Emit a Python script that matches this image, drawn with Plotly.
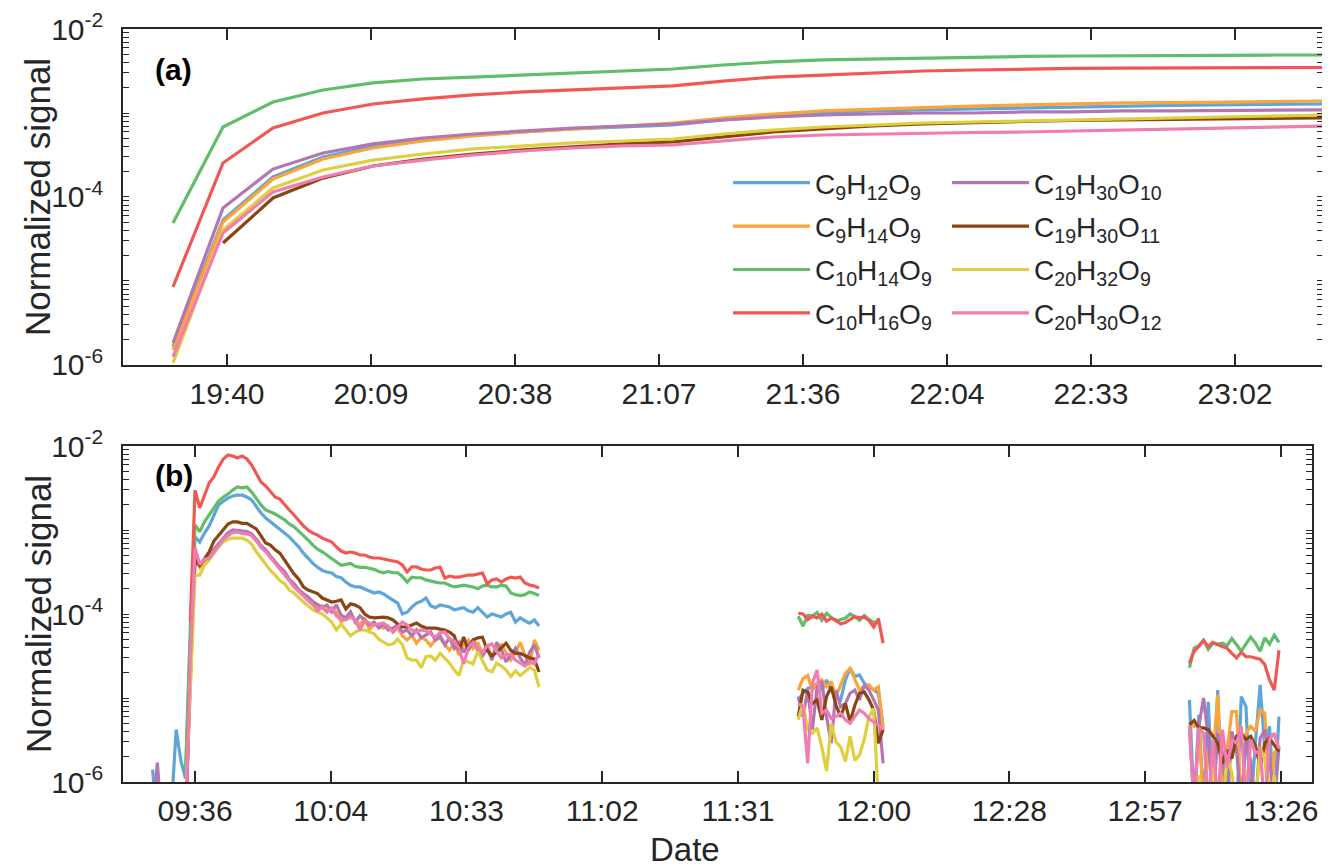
import pandas as pd
import plotly.graph_objects as go

# ---------------- series identity ----------------
NAMES = [
    "C<sub>9</sub>H<sub>12</sub>O<sub>9</sub>",
    "C<sub>9</sub>H<sub>14</sub>O<sub>9</sub>",
    "C<sub>10</sub>H<sub>14</sub>O<sub>9</sub>",
    "C<sub>10</sub>H<sub>16</sub>O<sub>9</sub>",
    "C<sub>19</sub>H<sub>30</sub>O<sub>10</sub>",
    "C<sub>19</sub>H<sub>30</sub>O<sub>11</sub>",
    "C<sub>20</sub>H<sub>32</sub>O<sub>9</sub>",
    "C<sub>20</sub>H<sub>30</sub>O<sub>12</sub>",
]
COLORS = ["#5DA5DA", "#FAA43A", "#60BD68", "#F15854",
          "#B276B2", "#8B4513", "#DECF3F", "#F17CB0"]

# ---------------- panel (a): 10-min samples 19:30 .. 23:20 ----------------
A_START = "2000-01-01 19:30"
A_COUNT = 24
A_C9H12O9 = [1.64e-6, 5.32e-5, 1.73e-4, 2.99e-4, 4.05e-4, 4.77e-4, 5.47e-4, 5.94e-4, 6.45e-4, 6.81e-4, 7.20e-4, 8.25e-4,
             9.21e-4, 1.00e-3, 1.06e-3, 1.09e-3, 1.12e-3, 1.15e-3, 1.18e-3, 1.21e-3, 1.23e-3, 1.25e-3, 1.26e-3, 1.28e-3]
A_C9H14O9 = [1.51e-6, 5.04e-5, 1.64e-4, 2.83e-4, 3.83e-4, 4.64e-4, 5.32e-4, 5.94e-4, 6.45e-4, 7.00e-4, 7.60e-4, 8.72e-4,
             9.73e-4, 1.06e-3, 1.12e-3, 1.16e-3, 1.21e-3, 1.25e-3, 1.28e-3, 1.32e-3, 1.33e-3, 1.35e-3, 1.37e-3, 1.39e-3]
A_C10H14O9 = [4.9e-5, 6.81e-4, 1.35e-3, 1.88e-3, 2.28e-3, 2.54e-3, 2.68e-3, 2.83e-3, 2.99e-3, 3.16e-3, 3.34e-3, 3.73e-3,
              4.05e-3, 4.28e-3, 4.40e-3, 4.52e-3, 4.64e-3, 4.71e-3, 4.77e-3, 4.77e-3, 4.84e-3, 4.84e-3, 4.90e-3, 4.90e-3]
A_C10H16O9 = [8.49e-6, 2.54e-4, 6.63e-4, 1.00e-3, 1.28e-3, 1.47e-3, 1.64e-3, 1.78e-3, 1.88e-3, 1.99e-3, 2.10e-3, 2.40e-3,
              2.68e-3, 2.83e-3, 2.99e-3, 3.16e-3, 3.25e-3, 3.34e-3, 3.39e-3, 3.43e-3, 3.43e-3, 3.43e-3, 3.48e-3, 3.48e-3]
A_C19H30O10 = [1.83e-6, 7.40e-5, 2.15e-4, 3.34e-4, 4.28e-4, 5.04e-4, 5.62e-4, 6.11e-4, 6.63e-4, 7.00e-4, 7.40e-4, 8.25e-4,
               8.96e-4, 9.47e-4, 9.73e-4, 1.00e-3, 1.00e-3, 1.03e-3, 1.03e-3, 1.06e-3, 1.06e-3, 1.07e-3, 1.07e-3, 1.09e-3]
A_C19H30O11 = [None, 2.83e-5, 9.73e-5, 1.68e-4, 2.34e-4, 2.83e-4, 3.25e-4, 3.63e-4, 3.94e-4, 4.28e-4, 4.52e-4, 5.18e-4,
               5.94e-4, 6.45e-4, 7.00e-4, 7.40e-4, 7.71e-4, 7.92e-4, 8.14e-4, 8.25e-4, 8.37e-4, 8.48e-4, 8.60e-4, 8.72e-4]
A_C20H32O9 = [1.06e-6, 4.05e-5, 1.28e-4, 2.10e-4, 2.75e-4, 3.25e-4, 3.73e-4, 4.05e-4, 4.40e-4, 4.64e-4, 4.90e-4, 5.62e-4,
              6.28e-4, 6.81e-4, 7.20e-4, 7.60e-4, 7.81e-4, 8.03e-4, 8.25e-4, 8.48e-4, 8.72e-4, 8.96e-4, 9.21e-4, 9.47e-4]
A_C20H30O12 = [1.25e-6, 3.73e-5, 1.15e-4, 1.73e-4, 2.34e-4, 2.75e-4, 3.16e-4, 3.53e-4, 3.83e-4, 4.05e-4, 4.16e-4, 4.64e-4,
               5.18e-4, 5.47e-4, 5.62e-4, 5.78e-4, 5.86e-4, 5.94e-4, 6.11e-4, 6.28e-4, 6.45e-4, 6.63e-4, 6.81e-4, 7.00e-4]

# ---------------- panel (b): 1-min samples in three measurement windows ----------------
B1_START, B1_COUNT = "2000-01-01 09:27", 83
B2_START, B2_COUNT = "2000-01-01 11:44", 19
B3_START, B3_COUNT = "2000-01-01 13:07", 20

B1_C9H12O9 = [1.4e-6, 3e-7, 3e-7, 3e-7, 5e-7, 4.2e-6, 1.8e-6, 1.1e-6, 4e-5,
              8.3e-4, 7.2e-4, 9.2e-4, 1.12e-3, 1.51e-3, 1.99e-3, 2.2e-3, 2.4e-3, 2.54e-3, 2.6e-3, 2.6e-3, 2.47e-3, 2.28e-3,
              1.88e-3, 1.59e-3, 1.39e-3, 1.25e-3, 1.15e-3, 1.03e-3, 9.2e-4, 8.3e-4, 7.2e-4, 6.3e-4, 5.3e-4, 4.6e-4, 4.0e-4,
              3.6e-4, 3.3e-4, 3.16e-4,
              3.08e-4, 2.8e-4, 2.7e-4, 2.4e-4, 2.2e-4, 2.1e-4, 2.1e-4, 1.99e-4, 1.87e-4, 1.78e-4, 1.83e-4, 1.73e-4, 1.59e-4,
              1.47e-4, 1.35e-4, 1.0e-4, 1.05e-4, 1.21e-4, 1.35e-4, 1.42e-4, 1.55e-4, 1.25e-4, 1.19e-4, 1.28e-4, 1.25e-4,
              1.21e-4, 1.12e-4, 1.15e-4, 1.19e-4, 1.09e-4, 1.05e-4, 1.19e-4, 1.03e-4, 9.2e-5, 1.0e-4, 9.7e-5, 9.2e-5, 1.0e-4,
              1.05e-4, 8.0e-5, 9.0e-5, 8.3e-5, 7.8e-5, 8.5e-5, 7.2e-5]
B1_C9H14O9 = [3e-7, 3e-7, 3e-7, 3e-7, 3e-7, 3e-7, 3e-7, 4e-7, 1.5e-5,
              4.6e-4, 3.6e-4, 4.2e-4, 4.7e-4, 5.6e-4, 6.6e-4, 7.8e-4, 8.9e-4, 9.6e-4, 9.5e-4, 9.3e-4, 9.4e-4, 8.8e-4,
              7.5e-4, 6.3e-4, 5.6e-4, 4.8e-4, 4.0e-4, 3.5e-4, 3.0e-4, 2.5e-4, 2.2e-4, 1.9e-4, 1.7e-4, 1.5e-4, 1.35e-4,
              1.15e-4, 1.25e-4, 1.1e-4,
              1.12e-4, 1.06e-4, 8.0e-5, 9.0e-5, 9.7e-5, 8.5e-5, 7.4e-5, 9.0e-5, 6.45e-5, 7.6e-5, 7.4e-5, 6.8e-5, 7.2e-5,
              6.1e-5, 6.8e-5, 5.5e-5, 4.9e-5, 5.6e-5, 4.5e-5, 5.3e-5, 4.9e-5, 4.2e-5, 4.9e-5, 5.2e-5, 4.3e-5, 3.7e-5,
              4.6e-5, 3.25e-5, 4.3e-5, 4.9e-5, 3.9e-5, 4.6e-5, 3.3e-5, 4.3e-5, 3.0e-5, 3.9e-5, 4.3e-5, 3.5e-5, 2.83e-5,
              3.5e-5, 4.6e-5, 3.25e-5, 2.47e-5, 4.9e-5, 3.7e-5]
B1_C10H14O9 = [None, None, None, None, None, None, None, 1.4e-6, 7e-5,
               1.15e-3, 9.5e-4, 1.25e-3, 1.51e-3, 1.88e-3, 2.21e-3, 2.47e-3, 2.68e-3, 2.99e-3, 3.25e-3, 3.17e-3, 3.25e-3,
               2.83e-3, 2.34e-3, 1.99e-3, 1.73e-3, 1.64e-3, 1.55e-3, 1.43e-3, 1.32e-3, 1.18e-3, 1.09e-3, 9.7e-4, 8.7e-4,
               7.6e-4, 6.6e-4, 5.9e-4, 5.5e-4, 5.0e-4,
               4.5e-4, 4.2e-4, 3.8e-4, 3.9e-4, 4.0e-4, 3.7e-4, 3.6e-4, 3.6e-4, 3.5e-4, 3.4e-4, 3.2e-4, 3.1e-4, 3.2e-4,
               3.1e-4, 3.1e-4, 2.8e-4, 2.4e-4, 2.75e-4, 2.7e-4, 2.7e-4, 2.55e-4, 2.5e-4, 2.4e-4, 2.34e-4, 2.34e-4, 2.2e-4,
               2.1e-4, 2.15e-4, 2.2e-4, 2.15e-4, 2.1e-4, 2.0e-4, 2.15e-4, 2.2e-4, 2.1e-4, 2.1e-4, 2.2e-4, 2.15e-4, 1.78e-4,
               1.7e-4, 1.66e-4, 1.7e-4, 1.83e-4, 1.75e-4, 1.66e-4]
B1_C10H16O9 = [None, None, None, None, None, None, None, None, 8e-5,
               2.99e-3, 1.83e-3, 2.61e-3, 3.63e-3, 4.28e-3, 5.62e-3, 7.0e-3, 7.82e-3, 7.6e-3, 7.2e-3, 7.6e-3, 7.0e-3,
               5.94e-3, 4.64e-3, 3.73e-3, 3.34e-3, 2.83e-3, 2.47e-3, 2.34e-3, 1.99e-3, 1.73e-3, 1.51e-3, 1.28e-3, 1.12e-3,
               1.0e-3, 9.2e-4, 8.7e-4, 8.0e-4, 7.6e-4,
               7.2e-4, 6.28e-4, 5.62e-4, 5.32e-4, 5.47e-4, 5.32e-4, 5.04e-4, 5.04e-4, 4.77e-4, 4.64e-4, 4.64e-4, 4.52e-4,
               4.40e-4, 4.28e-4, 4.16e-4, 3.83e-4, 3.16e-4, 3.63e-4, 3.63e-4, 3.43e-4, 3.34e-4, 3.34e-4, 3.53e-4, 3.63e-4,
               2.68e-4, 2.83e-4, 2.75e-4, 2.75e-4, 2.83e-4, 2.91e-4, 2.91e-4, 2.99e-4, 3.08e-4, 2.28e-4, 2.54e-4, 2.61e-4,
               2.40e-4, 2.61e-4, 2.75e-4, 2.68e-4, 2.75e-4, 2.34e-4, 2.21e-4, 2.15e-4, 2.04e-4]
B1_C19H30O10 = [3e-7, 1.7e-6, 3e-7, 3e-7, 3e-7, 3e-7, 3e-7, 3e-7, 2e-5,
                5.0e-4, 3.9e-4, 4.4e-4, 4.9e-4, 5.9e-4, 6.9e-4, 8.1e-4, 9.3e-4, 1.0e-3, 9.9e-4, 9.6e-4, 9.6e-4, 9.0e-4,
                7.8e-4, 6.5e-4, 5.8e-4, 4.9e-4, 4.2e-4, 3.6e-4, 3.2e-4, 2.6e-4, 2.3e-4, 1.95e-4, 1.75e-4, 1.6e-4, 1.4e-4,
                1.3e-4, 1.2e-4, 1.28e-4,
                1.06e-4, 1.28e-4, 9.7e-5, 9.0e-5, 1.06e-4, 8.0e-5, 9.5e-5, 8.5e-5, 7.4e-5, 8.0e-5, 6.8e-5, 7.6e-5, 6.45e-5,
                6.8e-5, 7.4e-5, 6.1e-5, 6.45e-5, 5.5e-5, 6.45e-5, 5.2e-5, 5.6e-5, 6.1e-5, 4.9e-5, 5.5e-5, 4.3e-5, 5.2e-5,
                3.9e-5, 4.6e-5, 3.5e-5, 4.3e-5, 4.9e-5, 3.7e-5, 3.16e-5, 3.9e-5, 2.83e-5, 4.6e-5, 3.7e-5, 2.7e-5, 3.25e-5,
                3.9e-5, 3.0e-5, 2.47e-5, 3.5e-5, 4.3e-5, 3.0e-5]
B1_C19H30O11 = [3e-7, 3e-7, 3e-7, 3e-7, 3e-7, 3e-7, 3e-7, 3e-7, 2.5e-5,
                4.4e-4, 3.8e-4, 4.5e-4, 5.5e-4, 7.4e-4, 8.7e-4, 1.03e-3, 1.18e-3, 1.25e-3, 1.25e-3, 1.2e-3, 1.2e-3,
                1.11e-3, 1.03e-3, 8.5e-4, 7.0e-4, 6.6e-4, 5.8e-4, 5.3e-4, 4.4e-4, 3.7e-4, 3.0e-4, 2.6e-4, 2.1e-4, 1.93e-4,
                1.83e-4, 1.75e-4, 1.55e-4, 1.47e-4,
                1.39e-4, 1.42e-4, 1.47e-4, 1.15e-4, 1.32e-4, 1.28e-4, 1.19e-4, 1.0e-4, 9.2e-5, 9.0e-5, 9.2e-5, 9.2e-5,
                9.0e-5, 8.5e-5, 7.6e-5, 7.0e-5, 7.0e-5, 7.4e-5, 7.8e-5, 7.2e-5, 6.8e-5, 6.8e-5, 6.8e-5, 6.6e-5, 6.45e-5,
                6.1e-5, 5.5e-5, 3.7e-5, 5.3e-5, 3.7e-5, 4.9e-5, 5.2e-5, 5.3e-5, 3.7e-5, 3.16e-5, 3.5e-5, 4.0e-5, 4.5e-5,
                3.7e-5, 3.4e-5, 3.4e-5, 3.16e-5, 3.0e-5, 2.9e-5, 2.04e-5]
B1_C20H32O9 = [3e-7, 3e-7, 3e-7, 3e-7, 3e-7, 3e-7, 3e-7, 6e-7, 1.6e-5,
               2.9e-4, 2.9e-4, 3.8e-4, 4.4e-4, 5.3e-4, 6.3e-4, 7.2e-4, 7.8e-4, 8.0e-4, 8.0e-4, 8.0e-4, 7.6e-4, 6.8e-4,
               5.5e-4, 4.6e-4, 3.8e-4, 3.3e-4, 2.9e-4, 2.5e-4, 2.3e-4, 1.93e-4, 1.78e-4, 1.55e-4, 1.39e-4, 1.25e-4,
               1.12e-4, 1.06e-4, 1.0e-4, 9.0e-5,
               8.0e-5, 6.45e-5, 7.6e-5, 6.45e-5, 5.5e-5, 6.1e-5, 6.45e-5, 6.45e-5, 6.1e-5, 5.8e-5, 5.0e-5, 4.6e-5, 4.3e-5,
               4.4e-5, 5.0e-5, 4.3e-5, 3.0e-5, 2.83e-5, 2.83e-5, 2.3e-5, 3.1e-5, 3.16e-5, 2.83e-5, 3.4e-5, 3.0e-5, 2.6e-5,
               2.15e-5, 1.85e-5, 2.83e-5, 2.7e-5, 2.55e-5, 3.6e-5, 2.83e-5, 2.15e-5, 2.05e-5, 2.6e-5, 2.4e-5, 2.15e-5,
               1.8e-5, 2.1e-5, 1.85e-5, 2.05e-5, 2.3e-5, 2.15e-5, 1.35e-5]
B1_C20H30O12 = [3e-7, 3e-7, 3e-7, 3e-7, 3e-7, 3e-7, 3e-7, 3e-7, 3e-5,
                6.1e-4, 3.9e-4, 4.5e-4, 4.6e-4, 5.5e-4, 6.6e-4, 7.7e-4, 8.6e-4, 9.3e-4, 9.5e-4, 9.1e-4, 9.0e-4, 8.6e-4,
                7.4e-4, 6.2e-4, 5.5e-4, 4.7e-4, 4.0e-4, 3.5e-4, 3.0e-4, 2.5e-4, 2.1e-4, 1.85e-4, 1.6e-4, 1.45e-4, 1.3e-4,
                1.1e-4, 1.2e-4, 1.05e-4,
                1.18e-4, 9.5e-5, 8.7e-5, 8.5e-5, 9.2e-5, 8.5e-5, 6.45e-5, 8.3e-5, 7.8e-5, 7.4e-5, 7.6e-5, 7.8e-5, 7.0e-5,
                6.1e-5, 7.0e-5, 8.0e-5, 7.4e-5, 6.45e-5, 6.1e-5, 6.45e-5, 6.3e-5, 5.8e-5, 5.3e-5, 6.0e-5, 6.1e-5, 5.0e-5,
                4.8e-5, 3.9e-5, 2.55e-5, 3.9e-5, 4.6e-5, 3.9e-5, 3.5e-5, 4.2e-5, 4.4e-5, 3.6e-5, 3.0e-5, 3.25e-5, 3.3e-5,
                2.83e-5, 2.6e-5, 2.4e-5, 2.7e-5, 2.55e-5, 3.4e-5]

B2_C9H12O9 = [9.5e-6, 1.14e-5, 1.3e-5, 1.36e-5, 1.5e-5, 1.24e-5, 1.64e-5, 1.24e-5, 1.04e-5, 9.5e-6, 1.64e-5, 2.25e-5,
              1.8e-5, 1.88e-5, 1.5e-5, 1.36e-5, 1.24e-5, 1.14e-5, 4.6e-6]
B2_C9H14O9 = [1.24e-5, 1.7e-5, 1.85e-5, 1.24e-5, 1.5e-5, 1.64e-5, 1.36e-5, 1.57e-5, 1.04e-5, 1.43e-5, 1.97e-5, 2.25e-5,
              1.7e-5, 1.24e-5, 1.36e-5, 1.43e-5, 1.24e-5, 1.36e-5, 4.2e-6]
B2_C10H14O9 = [9.4e-5, 7.2e-5, 9.6e-5, 9.5e-5, 1.04e-4, 8.4e-5, 1.02e-4, 9.2e-5, 8.2e-5, 8.6e-5, 8.9e-5, 1.0e-4,
               9.3e-5, 8.4e-5, 9.6e-5, 8.6e-5, 8.0e-5, 7.8e-5, None]
B2_C10H16O9 = [1.02e-4, 1.0e-4, 8.6e-5, 9.4e-5, 9.0e-5, 1.0e-4, 8.2e-5, 8.9e-5, 8.5e-5, 7.6e-5, 7.9e-5, 8.6e-5,
               9.3e-5, 9.0e-5, 9.2e-5, 8.4e-5, 7.0e-5, 8.8e-5, 4.5e-5]
B2_C19H30O10 = [1.04e-5, 6.0e-6, 1.24e-5, 4.2e-6, 1.36e-5, 1.57e-5, 6.0e-6, 2.9e-6, 1.24e-5, 7.9e-6, 8.6e-6, 1.14e-5,
                1.24e-5, 9.5e-6, 1.43e-5, 1.24e-5, 9.5e-6, 7.2e-6, 1.67e-6]
B2_C19H30O11 = [6.0e-6, 1.24e-5, 1.18e-5, 8.6e-6, 9.5e-6, 5.5e-6, 1.04e-5, 1.36e-5, 8.2e-6, 6.0e-6, 8.6e-6, 5.2e-6,
                8.2e-6, 1.14e-5, 1.18e-5, 9.5e-6, 7.2e-6, 2.9e-6, 4.2e-6]
B2_C20H32O9 = [5.5e-6, 8.6e-6, 4.2e-6, 3.8e-6, 4.4e-6, 2.6e-6, 1.35e-6, 5.0e-6, 3.0e-6, 2.6e-6, 1.75e-6, 3.5e-6,
               1.8e-6, 2.1e-6, 3.2e-6, 6.0e-6, 7.5e-6, 6e-7, None]
B2_C20H30O12 = [8.6e-6, 7.9e-6, 1.67e-6, 1.5e-5, 2.15e-5, 6.6e-6, 7.2e-6, 5.7e-6, 6.0e-6, 6.6e-6, 5.5e-6, 5.0e-6,
                6.0e-6, 7.2e-6, 6.6e-6, 5.7e-6, 5.2e-6, 4.8e-6, 4.2e-6]

B3_C9H12O9 = [9.5e-6, 5e-7, 6.3e-6, 5e-7, 9.0e-6, 5e-7, 1.24e-5, 5e-7, 1.5e-6, 5e-7, 4e-7, 1.04e-5, 7.9e-6, 5e-7,
              2.9e-6, 1.43e-5, 2.4e-6, 4.6e-6, 5e-7, 6.0e-6]
B3_C9H14O9 = [5.0e-6, 4.6e-6, 5.0e-6, 5e-7, 2.4e-6, 1.9e-6, 1.09e-5, 5e-7, 2.4e-6, 6.9e-6, 6.9e-6, 5e-7, 3.8e-6,
              4.6e-6, 4.0e-6, 7.2e-6, 6.6e-6, 4e-7, 2.2e-6, 2.7e-6]
B3_C10H14O9 = [2.3e-5, 3.9e-5, 4.2e-5, 4.9e-5, 3.8e-5, 4.5e-5, 4.4e-5, 4.5e-5, 4.2e-5, 5.1e-5, 4.3e-5, 3.6e-5, 4.4e-5,
               5.3e-5, 4.5e-5, 3.6e-5, 5.2e-5, 4.4e-5, 5.6e-5, 4.6e-5]
B3_C10H16O9 = [2.6e-5, 3.6e-5, 4.1e-5, 4.8e-5, 4.1e-5, 4.6e-5, 4.3e-5, 4.1e-5, 3.9e-5, 3.4e-5, 3.0e-5, 3.5e-5, 3.1e-5,
               3.1e-5, 3.0e-5, 2.9e-5, 2.5e-5, 1.64e-5, 1.24e-5, 3.7e-5]
B3_C19H30O10 = [4.6e-6, 5e-7, 4.6e-6, 1.0e-5, 3.4e-6, 5e-7, 3.8e-6, 2.2e-6, 5e-7, 4.0e-6, 2.4e-6, 5e-7, 3.0e-6,
                1.8e-6, 5e-7, 3.3e-6, 4.2e-6, 2.0e-6, 5e-7, 2.6e-6]
B3_C19H30O11 = [4.8e-6, 5.4e-6, 4.4e-6, 4.4e-6, 4.2e-6, 3.5e-6, 2.9e-6, 1.67e-6, 2.4e-6, 1.9e-6, 3.5e-6, 3.8e-6,
                3.2e-6, 3.5e-6, 2.7e-6, 1.52e-6, 2.9e-6, 3.3e-6, 2.7e-6, 2.3e-6]
B3_C20H32O9 = [5e-7, 5e-7, 1.2e-6, 5e-7, 5e-7, 1.5e-6, 5e-7, 5e-7, 2.0e-6, 1.3e-6, 5e-7, 5e-7, 1.4e-6, 5e-7, 5e-7,
               2.6e-6, 1.8e-6, 5e-7, 1.2e-6, 5e-7]
B3_C20H30O12 = [4.6e-6, 5e-7, 4.4e-6, 3.8e-6, 5e-7, 3.2e-6, 5e-7, 4.2e-6, 1.5e-6, 3.2e-6, 2.9e-6, 4.6e-6, 5e-7,
                3.2e-6, 2.2e-6, 2.4e-6, 5e-7, 3.2e-6, 3.8e-6, 2.5e-6]

# ---------------- ticks ----------------
A_TICKVALS = ["2000-01-01 19:40:48", "2000-01-01 20:09:36", "2000-01-01 20:38:24", "2000-01-01 21:07:12",
              "2000-01-01 21:36:00", "2000-01-01 22:04:48", "2000-01-01 22:33:36", "2000-01-01 23:02:24"]
A_TICKTEXT = ["19:40", "20:09", "20:38", "21:07", "21:36", "22:04", "22:33", "23:02"]
B_TICKVALS = ["2000-01-01 09:36:00", "2000-01-01 10:04:48", "2000-01-01 10:33:36", "2000-01-01 11:02:24",
              "2000-01-01 11:31:12", "2000-01-01 12:00:00", "2000-01-01 12:28:48", "2000-01-01 12:57:36",
              "2000-01-01 13:26:24"]
B_TICKTEXT = ["09:36", "10:04", "10:33", "11:02", "11:31", "12:00", "12:28", "12:57", "13:26"]
Y_TICKVALS = [1e-6, 1e-4, 1e-2]
Y_TICKTEXT = ["10<sup>-6</sup>", "10<sup>-4</sup>", "10<sup>-2</sup>"]

A_SERIES = [A_C9H12O9, A_C9H14O9, A_C10H14O9, A_C10H16O9, A_C19H30O10, A_C19H30O11, A_C20H32O9, A_C20H30O12]
B1_SERIES = [B1_C9H12O9, B1_C9H14O9, B1_C10H14O9, B1_C10H16O9, B1_C19H30O10, B1_C19H30O11, B1_C20H32O9, B1_C20H30O12]
B2_SERIES = [B2_C9H12O9, B2_C9H14O9, B2_C10H14O9, B2_C10H16O9, B2_C19H30O10, B2_C19H30O11, B2_C20H32O9, B2_C20H30O12]
B3_SERIES = [B3_C9H12O9, B3_C9H14O9, B3_C10H14O9, B3_C10H16O9, B3_C19H30O10, B3_C19H30O11, B3_C20H32O9, B3_C20H30O12]

# ---------------- build ----------------
a_time = list(pd.date_range(A_START, periods=A_COUNT, freq="10min"))
t1 = list(pd.date_range(B1_START, periods=B1_COUNT, freq="min"))
t2 = list(pd.date_range(B2_START, periods=B2_COUNT, freq="min"))
t3 = list(pd.date_range(B3_START, periods=B3_COUNT, freq="min"))
one = pd.Timedelta(minutes=1)
b_time = t1 + [t1[-1] + one] + t2 + [t2[-1] + one] + t3

FONT = "Arial, 'Liberation Sans', Helvetica, sans-serif"
INK = "#262626"

fig = go.Figure()
for i, (name, color) in enumerate(zip(NAMES, COLORS)):
    fig.add_trace(go.Scatter(
        x=a_time, y=A_SERIES[i], name=name, mode="lines", legendgroup=f"g{i}",
        line=dict(color=color, width=3.2), xaxis="x", yaxis="y",
        legend="legend" if i < 4 else "legend2", connectgaps=False))
for i, (name, color) in enumerate(zip(NAMES, COLORS)):
    yb = B1_SERIES[i] + [None] + B2_SERIES[i] + [None] + B3_SERIES[i]
    fig.add_trace(go.Scatter(
        x=b_time, y=yb, name=name, mode="lines", showlegend=False, legendgroup=f"g{i}",
        line=dict(color=color, width=3.2), xaxis="x2", yaxis="y2", connectgaps=False))

# log-decade tick marks (2..9 of every decade plus the unlabelled decades)
log_marks = [k * 10.0 ** e for e in range(-6, -2) for k in range(1, 10) if not (k == 1 and e in (-6, -2))]

tfont = dict(family=FONT, size=30, color=INK)
XA_RANGE = ["2000-01-01 19:20:00", "2000-01-01 23:20:00"]
XB_RANGE = ["2000-01-01 09:20:43", "2000-01-01 13:33:00"]

# Tick marks are drawn through the axis "minor" channel (inside, mirrored on the opposite edge).
base = dict(showline=True, linecolor=INK, linewidth=1.6, mirror="ticks", showgrid=False, zeroline=False,
            tickcolor=INK, tickwidth=1.6, tickfont=tfont, automargin=False, ticks="")


def xaxis_spec(domain, anchor, rng, tv, tt):
    return dict(base, domain=domain, anchor=anchor, type="date", range=rng, tickmode="array",
                tickvals=tv, ticktext=tt, ticklabelstandoff=1,
                minor=dict(tickmode="array", tickvals=tv, ticks="inside", ticklen=11,
                           tickcolor=INK, tickwidth=1.6, showgrid=False))


def yaxis_spec(domain, anchor):
    return dict(base, domain=domain, anchor=anchor, type="log", range=[-6, -2], tickmode="array",
                tickvals=Y_TICKVALS, ticktext=Y_TICKTEXT, ticklabelstandoff=12, ticklabeloverflow="allow",
                minor=dict(tickmode="array", tickvals=log_marks, ticks="inside", ticklen=6,
                           tickcolor=INK, tickwidth=1.4, showgrid=False))


ytitle_font = dict(family=FONT, size=35, color=INK)
legend_common = dict(xanchor="left", yanchor="top", bgcolor="rgba(0,0,0,0)",
                     font=dict(family=FONT, size=28, color=INK), tracegroupgap=4, itemwidth=77)

# The browser's default 8px page margin offsets the figure, so the figure is 8px smaller.
fig.update_layout(
    width=1322, height=859,
    margin=dict(l=115, r=7, t=21, b=85, pad=0),
    paper_bgcolor="white", plot_bgcolor="white",
    font=dict(family=FONT, color=INK),
    xaxis=xaxis_spec([0, 1], "y", XA_RANGE, A_TICKVALS, A_TICKTEXT),
    yaxis=yaxis_spec([0.5538, 1], "x"),
    xaxis2=xaxis_spec([0, 0.9908], "y2", XB_RANGE, B_TICKVALS, B_TICKTEXT),
    yaxis2=yaxis_spec([0, 0.4462], "x2"),
    legend=dict(legend_common, x=0.5042, y=0.8287),
    legend2=dict(legend_common, x=0.6867, y=0.8287),
    annotations=[
        dict(text="<b>(a)</b>", x=0.025, y=0.9456, xref="paper", yref="paper", xanchor="left", yanchor="middle",
             showarrow=False, font=dict(family=FONT, size=30, color="black")),
        dict(text="<b>(b)</b>", x=0.025, y=0.4064, xref="paper", yref="paper", xanchor="left", yanchor="middle",
             showarrow=False, font=dict(family=FONT, size=30, color="black")),
        dict(text="Normalized signal", textangle=-90, x=-0.0708, y=0.7769, xref="paper", yref="paper",
             xanchor="center", yanchor="middle", showarrow=False, font=ytitle_font),
        dict(text="Normalized signal", textangle=-90, x=-0.0708, y=0.2231, xref="paper", yref="paper",
             xanchor="center", yanchor="middle", showarrow=False, font=ytitle_font),
        dict(text="Date", x=0.4683, y=-0.09, xref="paper", yref="paper", xanchor="center", yanchor="middle",
             showarrow=False, font=dict(family=FONT, size=33, color=INK)),
    ],
)

fig.write_html("out.html")
